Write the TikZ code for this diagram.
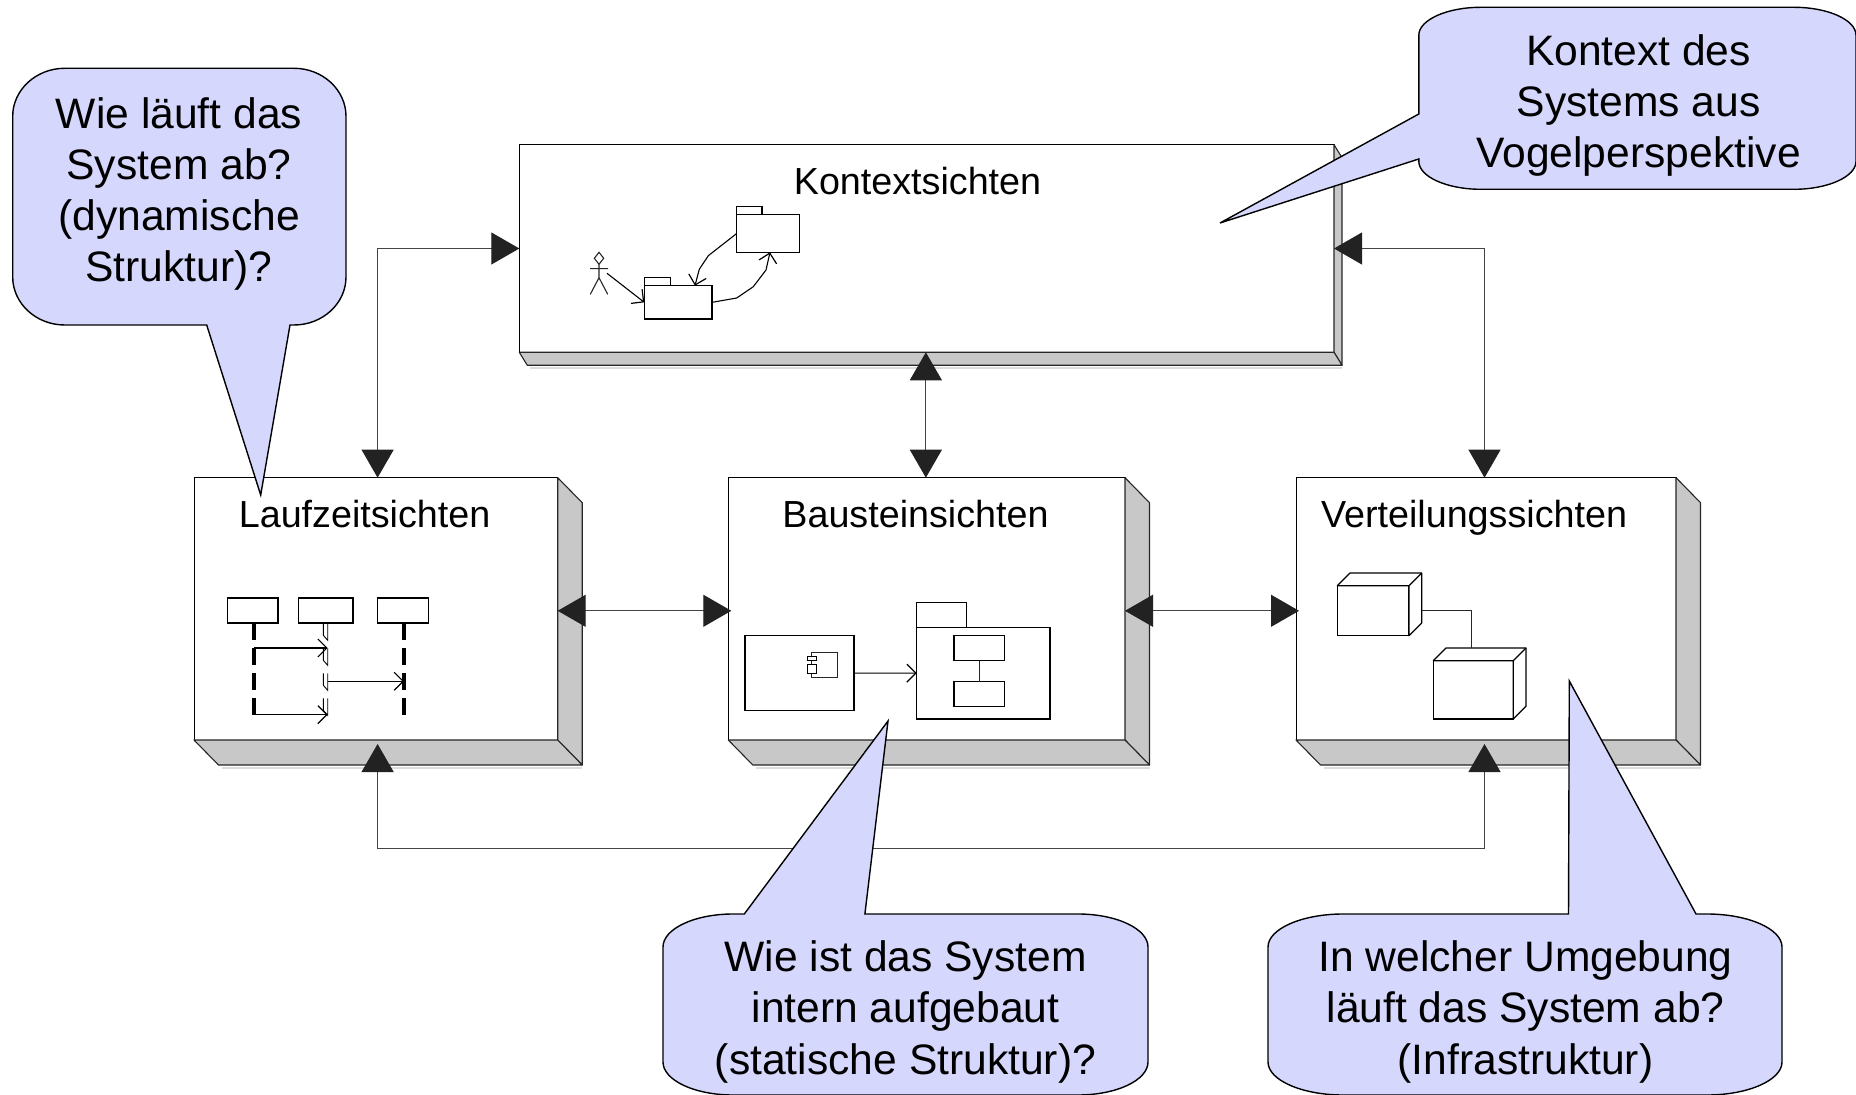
\documentclass[tikz,border=0pt]{standalone}
\usepackage{fontspec}
\setmainfont{Liberation Sans}
\usetikzlibrary{arrows.meta,fit}
\definecolor{facegray}{HTML}{C8C8C8}
\definecolor{shadowgray}{HTML}{DCDCDC}
\definecolor{calloutfill}{HTML}{D5D7FC}
\definecolor{headdark}{HTML}{222222}
\definecolor{linedark}{HTML}{444444}
\tikzset{
  frontbox/.style={draw=black,line width=.5pt,fill=white,inner sep=0pt,outer sep=0pt},
  smallbox/.style={draw=black,line width=.6pt,fill=white,inner sep=0pt,outer sep=0pt},
  faceshape/.style={draw=black!85,line width=.55pt,fill=facegray,line join=round},
  biconn/.style={draw=linedark,line width=.5pt,{Triangle[length=14pt,width=16pt,color=headdark]}-{Triangle[length=14pt,width=16pt,color=headdark]}},
  openarrow/.style={draw=black,line width=.55pt,-{Straight Barb[length=4.5pt,width=9pt,line width=.6pt]}},
  thinline/.style={draw=black!85,line width=.55pt},
  lifeline/.style={draw=black,line width=2pt,dash pattern=on 8.5pt off 4pt},
  callout/.style={draw=black,line width=.7pt,fill=calloutfill,line join=miter},
  boxlabel/.style={anchor=base,inner sep=0pt,font=\fontsize{18.85}{22}\selectfont},
  calloutlabel/.style={anchor=base,inner sep=0pt,align=center,font=\fontsize{21.3}{25.6}\selectfont},
}
\newcommand{\depthfaces}[3]{%
  \draw[shadowgray,line width=1pt] ([shift={(#2+3,#3+3)}]#1.south west) -- ([shift={(#2,#3+3)}]#1.south east);
  \draw[faceshape] (#1.north east) -- ([shift={(#2,#3)}]#1.north east) -- ([shift={(#2,#3)}]#1.south east) -- (#1.south east) -- cycle;
  \draw[faceshape] (#1.south west) -- ([shift={(#2,#3)}]#1.south west) -- ([shift={(#2,#3)}]#1.south east) -- (#1.south east) -- cycle;
}
\newcommand{\cubefaces}[2]{%
  \draw[smallbox,line join=round] (#1.north west) -- ([shift={(#2,-#2)}]#1.north west) -- ([shift={(#2,-#2)}]#1.north east) -- ([shift={(#2,-#2)}]#1.south east) -- (#1.south east) -- (#1.north east) -- cycle;
  \draw[smallbox] (#1.north east) -- ([shift={(#2,-#2)}]#1.north east);
}
\begin{document}
\begin{tikzpicture}[x=0.5pt,y=-0.5pt]
\useasboundingbox[fill=white] (0,0) rectangle (1856,1095);

% main boxes
\node[frontbox,fit={(519.3,144.7) (1334,352.3)}] (kontext) {};
\node[frontbox,fit={(194,477.7) (557.7,740)}] (lauf) {};
\node[frontbox,fit={(728.3,477.7) (1125,740)}] (baust) {};
\node[frontbox,fit={(1296,477.7) (1676,740)}] (verteil) {};
\depthfaces{kontext}{8}{13}
\depthfaces{lauf}{24.5}{25}
\depthfaces{baust}{24.5}{25}
\depthfaces{verteil}{24.5}{25}

\node[boxlabel] (lk) at (917.5,195) {Kontextsichten};
\node[boxlabel] (ll) at (364.6,527.5) {Laufzeitsichten};
\node[boxlabel] (lb) at (915.5,527.5) {Bausteinsichten};
\node[boxlabel] (lv) at (1474,527.5) {Verteilungssichten};

% Kontext contents
\node[smallbox,fit={(644.3,277.3) (670.3,285.7)}] (p1tab) {};
\node[smallbox,fit={(644.3,285.7) (712,319)}] (p1) {};
\node[smallbox,fit={(736.7,206.3) (762,214.7)}] (p2tab) {};
\node[smallbox,fit={(736.7,214.7) (799.3,252.3)}] (p2) {};
\draw[thinline,fill=white] (599,252.3) -- (603.7,258.3) -- (599,264.3) -- (594.3,258.3) -- cycle;
\draw[thinline] (599,264.3) -- (599,277.7) (590,268.7) -- (608,268.7) (590.3,294.3) -- (599,277.7) -- (607.7,294.3);
\coordinate (actor) at (607,273.3);
\draw[openarrow] (actor) -- (p1.west);
\draw[openarrow,line join=round] (p2.west) -- (708.3,255.7) -- (699.3,269.3) -- ([xshift=8.4pt]p1.north);
\draw[openarrow,line join=round] (p1.east) -- (736.7,298) -- (753.3,286.7) -- (766,270) -- ([xshift=1pt]p2.south);

% Laufzeit contents
\node[smallbox,fit={(227.7,598) (278,623)}] (h1) {};
\node[smallbox,fit={(298.3,598) (353,623)}] (h2) {};
\node[smallbox,fit={(377.7,598) (428.3,623)}] (h3) {};
\draw[lifeline] ([xshift=.7pt]h1.south) -- ++(0,92);
\draw[lifeline] ([xshift=.5pt]h3.south) -- ++(0,92);
\foreach \yy in {623.3,648.3,673.3,698.3}
  \draw[draw=black,line width=.45pt] (323.3,\yy) -- (323.3,\yy+12) -- (327.7,\yy+17) -- (327.7,\yy);
\coordinate (m1a) at (254.3,648);
\coordinate (m1b) at (327.7,648);
\coordinate (m2a) at (327.7,681.3);
\coordinate (m2b) at (404,681.3);
\coordinate (m3a) at (254.3,714.7);
\coordinate (m3b) at (327.7,714.7);
\draw[openarrow] (m1a) -- (m1b);
\draw[openarrow] (m2a) -- (m2b);
\draw[openarrow] (m3a) -- (m3b);

% Baustein contents
\node[smallbox,fit={(745,635.7) (854,710.7)}] (comp) {};
\node[thinline,fill=white,inner sep=0pt,outer sep=0pt,fit={(811.7,652.3) (837.3,677.3)}] (compicon) {};
\node[smallbox,line width=.5pt,fit={(807.3,656.3) (816.3,660.7)}] (tab1) {};
\node[smallbox,line width=.5pt,fit={(807.3,664.7) (816.3,673)}] (tab2) {};
\node[smallbox,fit={(916.7,602.3) (966.7,627.3)}] (pktab) {};
\node[smallbox,fit={(916.7,627.3) (1050,719)}] (pk) {};
\node[smallbox,fit={(954,635.7) (1004.3,660.7)}] (in1) {};
\node[smallbox,fit={(954,681.7) (1004.3,706.7)}] (in2) {};
\draw[thinline] (in1.south) -- (in2.north);
\draw[openarrow] (comp.east) -- (pk.west);

% Verteilung contents
\node[smallbox,fit={(1337.3,585.7) (1409,635.7)}] (n1) {};
\node[smallbox,fit={(1433.3,660.7) (1513.3,719)}] (n2) {};
\cubefaces{n1}{12.7}
\cubefaces{n2}{12.7}
\draw[thinline] ([xshift=6.35pt]n1.east) -| ([shift={(-1.6,-13)}]n2.north);

% connectors
\coordinate (kl) at (377.6,248.5);
\coordinate (kv) at (1484.5,248.5);
\coordinate (bl) at (377.6,848);
\coordinate (bv) at (1484.5,848);
\coordinate (mid) at (0,610.8);
\draw[biconn] (kontext.west |- kl) -- (kl) -- (lauf.north -| kl);
\draw[biconn] ([xshift=-.4pt]kontext.south) -- ([xshift=-.4pt]baust.north);
\draw[biconn] (kontext.east |- kv) -- (kv) -- (verteil.north -| kv);
\draw[biconn,shorten >=-1.5pt] (lauf.east |- mid) -- (baust.west |- mid);
\draw[biconn,shorten >=-1.5pt] (baust.east |- mid) -- (verteil.west |- mid);
\draw[biconn,shorten <=2pt,shorten >=2pt] (lauf.south -| bl) -- (bl) -- (bv) -- (verteil.south -| bv);

% callouts
\draw[callout] (12.7,116.3) .. controls +(0,-26.4) and +(-28.6,0) .. (64.7,68.3) -- (294,68.3)
  .. controls +(28.6,0) and +(0,-26.4) .. (346,116.3) -- (346,277)
  .. controls +(0,26.4) and +(28.6,0) .. (294,325) -- (290,325) -- (260.7,495) -- (206.7,325) -- (64.7,325)
  .. controls +(-28.6,0) and +(0,26.4) .. (12.7,277) -- cycle;
\draw[callout] (1418.8,35.3) .. controls +(0,-15.4) and +(-34,0) .. (1480.8,7.3) -- (1794,7.3)
  .. controls +(34,0) and +(0,-15.4) .. (1856,35.3) -- (1856,161.3)
  .. controls +(0,15.4) and +(34,0) .. (1794,189.3) -- (1480.8,189.3)
  .. controls +(-34,0) and +(0,15.4) .. (1418.8,161.3) -- (1418.8,159) -- (1220,223) -- (1418.8,114) -- cycle;
\draw[callout] (663,947) .. controls +(0,-18.2) and +(-38.5,0) .. (733,914) -- (744.3,914) -- (888,721) -- (864.9,914) -- (1078,914)
  .. controls +(38.5,0) and +(0,-18.2) .. (1148,947) -- (1148,1062)
  .. controls +(0,18.2) and +(38.5,0) .. (1078,1095) -- (733,1095)
  .. controls +(-38.5,0) and +(0,18.2) .. (663,1062) -- cycle;
\draw[callout] (1268,947) .. controls +(0,-18.2) and +(-41,0) .. (1343,914) -- (1568.5,914) -- (1569.3,681) -- (1696,914) -- (1707,914)
  .. controls +(41,0) and +(0,-18.2) .. (1782,947) -- (1782,1062)
  .. controls +(0,18.2) and +(41,0) .. (1707,1095) -- (1343,1095)
  .. controls +(-41,0) and +(0,18.2) .. (1268,1062) -- cycle;

\node[calloutlabel] (t1) at (179,282) {Wie läuft das\\System ab?\\(dynamische\\Struktur)?};
\node[calloutlabel] (t2) at (1638.5,168) {Kontext des\\Systems aus\\Vogelperspektive};
\node[calloutlabel] (t3) at (905.5,1074) {Wie ist das System\\intern aufgebaut\\(statische Struktur)?};
\node[calloutlabel] (t4) at (1525.5,1074) {In welcher Umgebung\\läuft das System ab?\\(Infrastruktur)};
\end{tikzpicture}
\end{document}
